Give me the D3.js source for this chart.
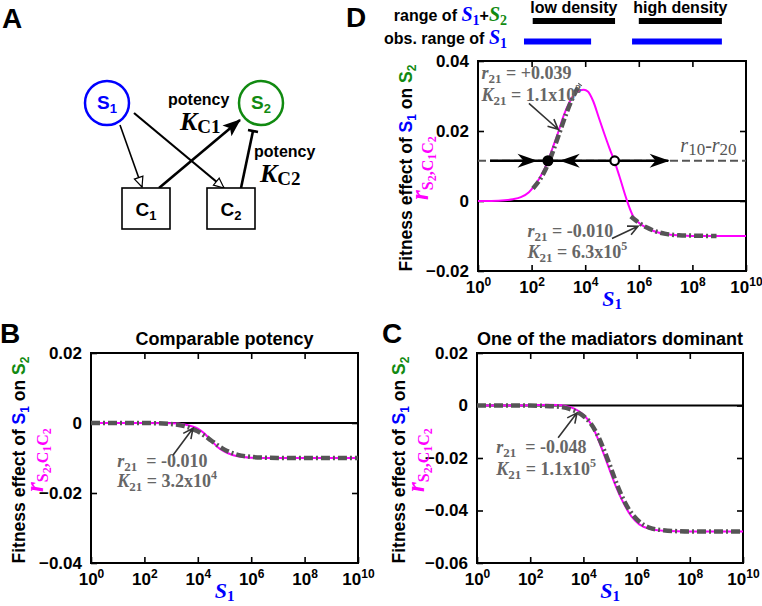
<!DOCTYPE html>
<html><head><meta charset="utf-8">
<script src="https://cdn.jsdelivr.net/npm/d3@7"></script>
<style>
body{margin:0;background:#fff}
svg{display:block}
</style></head><body>
<svg id="fig" width="762" height="606" font-family="Liberation Sans, Arial, sans-serif"></svg>
<script>
// ---------- data ----------
const xTickValues = [1e0, 1e2, 1e4, 1e6, 1e8, 1e10];
const xTickExponents = ["0", "2", "4", "6", "8", "10"];
const yTicksB = [-0.04, -0.02, 0, 0.02];
const yTicksC = [-0.06, -0.04, -0.02, 0, 0.02];
const yTicksD = [-0.02, 0, 0.02, 0.04];

// Panel D: simulated effect (log10 S1, r)
const dLogS = [0,0.5,1.0,1.3,1.6,1.9,2.1,2.3,2.6,2.8,3.0,3.2,3.4,3.6,3.8,3.95,4.1,4.3,4.5,4.7,4.9,5.1,5.3,5.5,5.6,5.8,6.0,6.3,6.6,7.0,7.5,8.0,9.0,10];
const dR    = [0,0.00002,0.0002,0.0005,0.0011,0.0025,0.0043,0.0066,0.0112,0.0155,0.0198,0.0245,0.0280,0.0305,0.0316,0.0318,0.0313,0.0285,0.0240,0.0195,0.0152,0.0112,0.0065,0.0015,-0.0008,-0.0045,-0.0062,-0.0077,-0.0087,-0.0094,-0.0098,-0.0100,-0.0100,-0.0100];
// Panel D: low-density fit
const dFit1LogS = [2.05,2.3,2.5,2.7,2.9,3.1,3.3,3.5,3.7,3.82];
const dFit1R    = [0.0036,0.0060,0.0087,0.0122,0.0164,0.0208,0.0251,0.0289,0.0320,0.0334];
// Panel D: high-density fit
const dFit2LogS = [5.7,5.9,6.1,6.3,6.6,7.0,7.5,8.0,8.9];
const dFit2R    = [-0.0044,-0.0056,-0.0067,-0.0076,-0.0086,-0.0094,-0.0098,-0.0099,-0.0100];
// Panel D: r10 - r20 level and equilibria
const r10minusr20 = 0.0115;
const stableEqS = Math.pow(10, 2.61);
const unstableEqS = Math.pow(10, 5.1);
// Panel D: ranges (S1 values)
const lowDensityRange = [1.1e2, 1.3e5];
const highDensityRange = [1.0e6, 1.26e9];
const obsLowRange = [5.2e1, 1.66e4];
const obsHighRange = [5.6e5, 1.26e9];

// Panel B
const bLogS = [0,1,2,3,3.5,3.8,4,4.25,4.5,4.75,5,5.25,5.5,6,6.5,7,8,10];
const bR    = [0,0,0,-0.0001,-0.0004,-0.0010,-0.0016,-0.0030,-0.0050,-0.0069,-0.0082,-0.0090,-0.0095,-0.0099,-0.0100,-0.0100,-0.0100,-0.0100];
const bFitLogS = [0,1,2,3,3.5,4,4.25,4.5,4.75,5,5.5,6,6.5,7,8,10];
const bFitR    = [0,0,0,-0.0003,-0.0009,-0.0024,-0.0036,-0.0050,-0.0064,-0.0076,-0.0091,-0.0097,-0.0099,-0.0100,-0.0100,-0.0100];

// Panel C
const cLogS = [0,1,2,2.7,3,3.5,3.8,4,4.3,4.6,4.9,5.2,5.5,5.8,6.1,6.5,7,8,10];
const cR    = [0,0,0.0001,0.0003,0.0002,-0.0006,-0.0020,-0.0035,-0.0072,-0.0140,-0.0222,-0.0303,-0.0370,-0.0422,-0.0453,-0.0470,-0.0477,-0.0480,-0.0480];
const cFitLogS = [0,1,2,3,3.5,4,4.25,4.5,4.75,5,5.25,5.5,5.75,6,6.5,7,8,10];
const cFitR    = [0,0,-0.00004,-0.0004,-0.0014,-0.0040,-0.0065,-0.0106,-0.0163,-0.0229,-0.0298,-0.0357,-0.0402,-0.0433,-0.0466,-0.0475,-0.0480,-0.0480];

// ---------- drawing ----------
const BLUE = "#0000ff", GREEN = "#118a11", MAG = "#ff00ff", FITC = "#555555", ANN = "#666666";
const SERIF = "Liberation Serif, Times New Roman, serif";
const SANS = "Liberation Sans, Arial, sans-serif";
const svg = d3.select("#fig");
const zip = (a, b) => a.map((v, i) => [Math.pow(10, v), b[i]]);

function panel(cfg) {
  const x = d3.scaleLog().domain([1, 1e10]).range([cfg.x0, cfg.x1]);
  const y = d3.scaleLinear().domain([cfg.yTicks[0], cfg.yTicks[cfg.yTicks.length - 1]]).range([cfg.y1, cfg.y0]);
  const g = svg.append("g");
  const fmt = d => d === 0 ? "0" : d3.format(".2f")(d);
  const gb = g.append("g").attr("transform", `translate(0,${cfg.y1})`)
    .call(d3.axisBottom(x).tickValues(xTickValues).tickSizeInner(-6).tickSizeOuter(0).tickPadding(10));
  gb.selectAll(".tick text").each(function(d, i) {
    const t = d3.select(this); t.text(null);
    t.append("tspan").text("10");
    t.append("tspan").attr("dy", "-7").attr("font-size", "12px").text(xTickExponents[i]);
  });
  const gt = g.append("g").attr("transform", `translate(0,${cfg.y0})`)
    .call(d3.axisTop(x).tickValues(xTickValues.slice(1, -1)).tickSizeInner(-6).tickSizeOuter(0).tickFormat(""));
  const gl = g.append("g").attr("transform", `translate(${cfg.x0},0)`)
    .call(d3.axisLeft(y).tickValues(cfg.yTicks).tickSizeInner(-6).tickSizeOuter(0).tickPadding(9).tickFormat(fmt));
  const gr = g.append("g").attr("transform", `translate(${cfg.x1},0)`)
    .call(d3.axisRight(y).tickValues(cfg.yTicks.slice(1, -1)).tickSizeInner(-6).tickSizeOuter(0).tickFormat(""));
  [gb, gt, gl, gr].forEach(a => {
    a.attr("font-family", SANS);
    a.select(".domain").remove();
    a.selectAll(".tick line").attr("stroke", "#000").attr("stroke-width", 1.6);
    a.selectAll(".tick text").attr("font-weight", "bold").attr("font-size", "17px").attr("fill", "#000");
  });
  g.append("line").attr("x1", cfg.x0).attr("x2", cfg.x1).attr("y1", y(0)).attr("y2", y(0))
    .attr("stroke", "#000").attr("stroke-width", 2);
  g.append("rect").attr("x", cfg.x0).attr("y", cfg.y0).attr("width", cfg.x1 - cfg.x0).attr("height", cfg.y1 - cfg.y0)
    .attr("fill", "none").attr("stroke", "#000").attr("stroke-width", 2);
  const xl = g.append("text").attr("x", (cfg.x0 + cfg.x1) / 2).attr("y", cfg.y1 + 35)
    .attr("text-anchor", "middle").attr("fill", BLUE).attr("font-family", SERIF).attr("font-weight", "bold");
  xl.append("tspan").attr("font-style", "italic").attr("font-size", "22px").text("S");
  xl.append("tspan").attr("font-size", "15px").attr("dy", "3").text("1");
  const cy = cfg.y1 - 103;
  const yl = g.append("text").attr("transform", `translate(${cfg.labX},${cy}) rotate(-90)`)
    .attr("text-anchor", "middle").attr("font-weight", "bold").attr("font-size", "17.5px").attr("font-family", SANS);
  yl.append("tspan").text("Fitness effect of ");
  yl.append("tspan").attr("fill", BLUE).text("S");
  yl.append("tspan").attr("fill", BLUE).attr("font-size", "12px").attr("dy", "4").text("1");
  yl.append("tspan").attr("dy", "-4").text(" on ");
  yl.append("tspan").attr("fill", GREEN).text("S");
  yl.append("tspan").attr("fill", GREEN).attr("font-size", "12px").attr("dy", "4").text("2");
  const ml = g.append("text").attr("transform", `translate(${cfg.labX2},${cy}) rotate(-90)`)
    .attr("text-anchor", "middle").attr("fill", MAG).attr("font-family", SERIF).attr("font-weight", "bold");
  ml.append("tspan").attr("font-style", "italic").attr("font-size", "25px").text("r");
  ml.append("tspan").attr("font-size", "16px").attr("dy", "5").text("S");
  ml.append("tspan").attr("font-size", "12px").attr("dy", "3").text("2");
  ml.append("tspan").attr("font-size", "16px").attr("dy", "-3").text(",C");
  ml.append("tspan").attr("font-size", "12px").attr("dy", "3").text("1");
  ml.append("tspan").attr("font-size", "16px").attr("dy", "-3").text("C");
  ml.append("tspan").attr("font-size", "12px").attr("dy", "3").text("2");
  return { g, x, y };
}

function curve(p, data, color, width, dash) {
  const line = d3.line().x(d => p.x(d[0])).y(d => p.y(d[1])).curve(d3.curveMonotoneX);
  const path = p.g.append("path").datum(data).attr("d", line).attr("fill", "none")
    .attr("stroke", color).attr("stroke-width", width);
  if (dash) path.attr("stroke-dasharray", dash);
  return path;
}

function annArrow(p, from, to) {
  const x1 = p.x(from[0]), y1 = p.y(from[1]), x2 = p.x(to[0]), y2 = p.y(to[1]);
  const a = Math.atan2(y2 - y1, x2 - x1), L = 11, w = 0.45;
  const b1 = [x2 - L * Math.cos(a - w), y2 - L * Math.sin(a - w)];
  const b2 = [x2 - L * Math.cos(a + w), y2 - L * Math.sin(a + w)];
  p.g.append("path").attr("d", `M${x1},${y1}L${x2},${y2}M${b1[0]},${b1[1]}L${x2},${y2}L${b2[0]},${b2[1]}`)
    .attr("fill", "none").attr("stroke", "#333").attr("stroke-width", 1.6);
}

function annText(p, pos, rVal, kMant, kExp, dbl, lineGap) {
  const x0 = p.x(pos[0]), y0 = p.y(pos[1]);
  const t = p.g.append("text").attr("fill", ANN).attr("font-family", SERIF).attr("font-weight", "bold")
    .attr("font-size", "18px").attr("x", x0).attr("y", y0).attr("xml:space", "preserve");
  t.append("tspan").attr("font-style", "italic").text("r");
  t.append("tspan").attr("font-size", "13px").attr("dy", "4").text("21");
  t.append("tspan").attr("dy", "-4").text((dbl ? "  " : " ") + "= " + rVal);
  const t2 = p.g.append("text").attr("fill", ANN).attr("font-family", SERIF).attr("font-weight", "bold")
    .attr("font-size", "18px").attr("x", x0).attr("y", y0 + lineGap).attr("xml:space", "preserve");
  t2.append("tspan").attr("font-style", "italic").text("K");
  t2.append("tspan").attr("font-size", "13px").attr("dy", "4").text("21");
  t2.append("tspan").attr("dy", "-4").text(" = " + kMant + "x10");
  t2.append("tspan").attr("font-size", "12px").attr("dy", "-8").text(kExp);
}

// ---------- Panel D ----------
const pD = panel({ x0: 478, x1: 746, y0: 61, y1: 271, yTicks: yTicksD, labX: 412, labX2: 428 });
curve(pD, zip(dLogS, dR), MAG, 2);
curve(pD, zip(dFit1LogS, dFit1R), FITC, 4.5, "9,3,2,3");
curve(pD, zip(dFit2LogS, dFit2R), FITC, 4.5, "9,3,2,3");
const yEq = pD.y(r10minusr20);
pD.g.append("line").attr("x1", 478).attr("x2", 746).attr("y1", yEq).attr("y2", yEq)
  .attr("stroke", FITC).attr("stroke-width", 2).attr("stroke-dasharray", "8,4");
pD.g.append("line").attr("x1", pD.x(Math.pow(10, 0.45))).attr("x2", pD.x(Math.pow(10, 7.1))).attr("y1", yEq).attr("y2", yEq)
  .attr("stroke", "#000").attr("stroke-width", 2.5);
function head(p, tipS, dir) {
  const tx = p.x(tipS), L = 20, hw = 7, n = 6;
  const d = `M${tx},${yEq}L${tx - dir * L},${yEq - hw}L${tx - dir * (L - n)},${yEq}L${tx - dir * L},${yEq + hw}Z`;
  p.g.append("path").attr("d", d).attr("fill", "#000");
}
head(pD, Math.pow(10, 2.22), 1);
head(pD, Math.pow(10, 3.05), -1);
head(pD, Math.pow(10, 7.15), 1);
pD.g.append("circle").attr("cx", pD.x(stableEqS)).attr("cy", yEq).attr("r", 5.5).attr("fill", "#000");
pD.g.append("circle").attr("cx", pD.x(unstableEqS)).attr("cy", yEq).attr("r", 4.3).attr("fill", "#fff")
  .attr("stroke", "#000").attr("stroke-width", 2.2);
const rl = pD.g.append("text").attr("x", pD.x(Math.pow(10, 7.55))).attr("y", yEq - 9).attr("fill", FITC)
  .attr("font-family", SERIF).attr("font-size", "20px");
rl.append("tspan").attr("font-style", "italic").text("r");
rl.append("tspan").attr("font-size", "17px").attr("dy", "3").text("10");
rl.append("tspan").attr("dy", "-3").text("-");
rl.append("tspan").attr("font-style", "italic").text("r");
rl.append("tspan").attr("font-size", "17px").attr("dy", "3").text("20");
annText(pD, [Math.pow(10, 0.13), 0.0350], "+0.039", "1.1", "3", false, 22);
annArrow(pD, [Math.pow(10, 1.9), 0.0279], [Math.pow(10, 2.99), 0.0205]);
annText(pD, [Math.pow(10, 1.85), -0.0104], "-0.010", "6.3", "5", false, 21);
annArrow(pD, [Math.pow(10, 5.0), -0.0107], [Math.pow(10, 5.97), -0.0072]);
function rangeBar(r, yy, color) {
  svg.append("line").attr("x1", pD.x(r[0])).attr("x2", pD.x(r[1])).attr("y1", yy).attr("y2", yy)
    .attr("stroke", color).attr("stroke-width", 6);
}
rangeBar(lowDensityRange, 21, "#000");
rangeBar(highDensityRange, 21, "#000");
rangeBar(obsLowRange, 41.5, BLUE);
rangeBar(obsHighRange, 41.5, BLUE);
svg.append("text").attr("x", pD.x(Math.sqrt(lowDensityRange[0] * lowDensityRange[1]))).attr("y", 13)
  .attr("text-anchor", "middle").attr("font-weight", "bold").attr("font-size", "16px").text("low density");
svg.append("text").attr("x", pD.x(Math.sqrt(highDensityRange[0] * highDensityRange[1]))).attr("y", 13)
  .attr("text-anchor", "middle").attr("font-weight", "bold").attr("font-size", "16px").text("high density");
function rangeLabel(yy, parts) {
  const t = svg.append("text").attr("x", 507).attr("y", yy).attr("text-anchor", "end").attr("font-weight", "bold").attr("font-size", "16px");
  let sub = false;
  parts.forEach(([txt, col]) => {
    if (!col) { t.append("tspan").attr("dy", sub ? "-4" : "0").text(txt); sub = false; return; }
    t.append("tspan").attr("fill", col).attr("font-family", SERIF).attr("font-style", "italic").attr("font-size", "20px")
      .attr("dy", sub ? "-4" : "0").text("S");
    t.append("tspan").attr("fill", col).attr("font-family", SERIF).attr("font-size", "14px").attr("dy", "4").text(txt);
    sub = true;
  });
}
rangeLabel(21, [["range of "], ["1", BLUE], ["+"], ["2", GREEN]]);
rangeLabel(44, [["obs. range of "], ["1", BLUE]]);

// ---------- Panel B ----------
const pB = panel({ x0: 91, x1: 358, y0: 353, y1: 563, yTicks: yTicksB, labX: 25, labX2: 43 });
curve(pB, zip(bLogS, bR), MAG, 2);
curve(pB, zip(bFitLogS, bFitR), FITC, 4.5, "9,3,2,3");
annText(pB, [Math.pow(10, 0.98), -0.0127], "-0.010", "3.2", "4", true, 20);
annArrow(pB, [Math.pow(10, 3.07), -0.0092], [Math.pow(10, 3.82), -0.0015]);
svg.append("text").attr("x", (91 + 358) / 2).attr("y", 345).attr("text-anchor", "middle")
  .attr("font-weight", "bold").attr("font-size", "18px").text("Comparable potency");

// ---------- Panel C ----------
const pC = panel({ x0: 477, x1: 743, y0: 353, y1: 563, yTicks: yTicksC, labX: 405, labX2: 424 });
curve(pC, zip(cLogS, cR), MAG, 2);
curve(pC, zip(cFitLogS, cFitR), FITC, 4.5, "9,3,2,3");
annText(pC, [Math.pow(10, 0.72), -0.0180], "-0.048", "1.1", "5", true, 22);
annArrow(pC, [Math.pow(10, 3.05), -0.0123], [Math.pow(10, 3.76), -0.0028]);
svg.append("text").attr("x", (477 + 743) / 2).attr("y", 345).attr("text-anchor", "middle")
  .attr("font-weight", "bold").attr("font-size", "18px").text("One of the madiators dominant");

// ---------- Panel letters ----------
[["A", 2, 28], ["D", 346, 27], ["B", 0, 343], ["C", 382, 343]].forEach(([l, x, y]) =>
  svg.append("text").attr("x", x).attr("y", y).attr("font-weight", "bold").attr("font-size", "28px").text(l));

// ---------- Panel A diagram ----------
const defs = svg.append("defs");
defs.append("marker").attr("id", "openHead").attr("markerUnits", "userSpaceOnUse")
  .attr("viewBox", "0 0 12 12").attr("refX", 11).attr("refY", 6).attr("markerWidth", 12).attr("markerHeight", 12)
  .attr("orient", "auto").append("path").attr("d", "M1,1.5L11,6L1,10.5Z").attr("fill", "#fff").attr("stroke", "#000").attr("stroke-width", 1.2);
defs.append("marker").attr("id", "fillHead").attr("markerUnits", "userSpaceOnUse")
  .attr("viewBox", "0 0 18 16").attr("refX", 17).attr("refY", 8).attr("markerWidth", 18).attr("markerHeight", 16)
  .attr("orient", "auto").append("path").attr("d", "M0,1L18,8L0,15L4,8Z").attr("fill", "#000");
const A = svg.append("g");
A.append("line").attr("x1", 120).attr("y1", 125).attr("x2", 142).attr("y2", 187).attr("stroke", "#000").attr("stroke-width", 1.6).attr("marker-end", "url(#openHead)");
A.append("line").attr("x1", 134).attr("y1", 113).attr("x2", 224).attr("y2", 188).attr("stroke", "#000").attr("stroke-width", 2.2).attr("marker-end", "url(#openHead)");
A.append("line").attr("x1", 159).attr("y1", 188).attr("x2", 240).attr("y2", 120).attr("stroke", "#000").attr("stroke-width", 2.6).attr("marker-end", "url(#fillHead)");
A.append("line").attr("x1", 241).attr("y1", 188).attr("x2", 253).attr("y2", 131).attr("stroke", "#000").attr("stroke-width", 2.6);
A.append("line").attr("x1", 248).attr("y1", 130).attr("x2", 258).attr("y2", 132).attr("stroke", "#000").attr("stroke-width", 2.6);
[[107, 103, BLUE, "1"], [261, 103, GREEN, "2"]].forEach(([cx, cy, col, s]) => {
  A.append("circle").attr("cx", cx).attr("cy", cy).attr("r", 22).attr("fill", "#fff").attr("stroke", col).attr("stroke-width", 2.5);
  const t = A.append("text").attr("x", cx).attr("y", cy + 6).attr("text-anchor", "middle").attr("fill", col).attr("font-weight", "bold").attr("font-size", "19px");
  t.append("tspan").text("S");
  t.append("tspan").attr("font-size", "13px").attr("dy", "4").text(s);
});
[[122, 188, "1"], [207, 188, "2"]].forEach(([x, y, s]) => {
  A.append("rect").attr("x", x).attr("y", y).attr("width", 48).attr("height", 41).attr("fill", "#fff").attr("stroke", "#000").attr("stroke-width", 1.6);
  const t = A.append("text").attr("x", x + 24).attr("y", y + 28).attr("text-anchor", "middle").attr("font-weight", "bold").attr("font-size", "19px");
  t.append("tspan").text("C");
  t.append("tspan").attr("font-size", "13px").attr("dy", "4").text(s);
});
[[168, 105, 180, 130, "C1"], [254, 157, 260, 182, "C2"]].forEach(([px, py, kx, ky, s]) => {
  A.append("text").attr("x", px).attr("y", py).attr("font-weight", "bold").attr("font-size", "16px").text("potency");
  const k = A.append("text").attr("x", kx).attr("y", ky).attr("font-family", SERIF).attr("font-weight", "bold");
  k.append("tspan").attr("font-style", "italic").attr("font-size", "26px").text("K");
  k.append("tspan").attr("font-size", "19px").attr("dy", "3").text(s);
});
</script>
</body></html>
